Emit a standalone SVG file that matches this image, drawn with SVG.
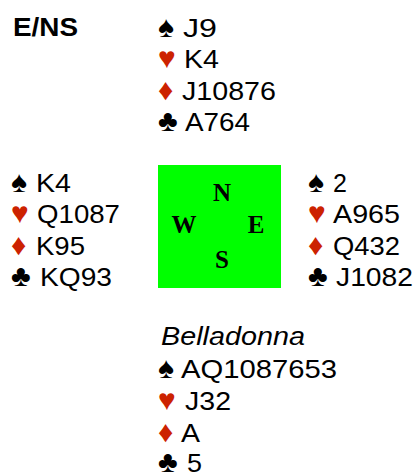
<svg xmlns="http://www.w3.org/2000/svg" width="418" height="473" viewBox="0 0 418 473">
<style>
text{font-family:"Liberation Sans",Arial,sans-serif;font-size:25px;fill:#000}
.s{font-size:30px}
.r{fill:#cc2200}
.c{font-family:"Liberation Serif","Times New Roman",serif;font-weight:bold;font-size:25px;text-anchor:middle}
</style>
<rect width="418" height="473" fill="#fff"/>
<g id="title"><text x="13" y="36" style="font-weight:bold" textLength="65" lengthAdjust="spacingAndGlyphs">E/NS</text></g>
<g id="north">
<text class="s" x="158" y="37">♠</text><text x="183" y="37" textLength="34" lengthAdjust="spacingAndGlyphs">J9</text>
<text class="s r" x="158" y="68">♥</text><text x="184" y="68" textLength="35" lengthAdjust="spacingAndGlyphs">K4</text>
<text class="s r" x="158" y="100">♦</text><text x="182" y="100" textLength="94" lengthAdjust="spacingAndGlyphs">J10876</text>
<text class="s" x="158" y="131">♣</text><text x="185" y="131" textLength="65" lengthAdjust="spacingAndGlyphs">A764</text>
</g>
<g id="west">
<text class="s" x="11" y="192">♠</text><text x="36" y="192" textLength="35" lengthAdjust="spacingAndGlyphs">K4</text>
<text class="s r" x="11" y="223">♥</text><text x="37" y="223" textLength="83" lengthAdjust="spacingAndGlyphs">Q1087</text>
<text class="s r" x="11" y="255">♦</text><text x="36" y="255" textLength="49" lengthAdjust="spacingAndGlyphs">K95</text>
<text class="s" x="11" y="286">♣</text><text x="40" y="286" textLength="72" lengthAdjust="spacingAndGlyphs">KQ93</text>
</g>
<g id="compass">
<rect x="158" y="165" width="123" height="123" fill="#00ff00"/>
<text class="c" x="222" y="201">N</text>
<text class="c" x="184" y="233">W</text>
<text class="c" x="256" y="233">E</text>
<text class="c" x="222" y="268">S</text>
</g>
<g id="east">
<text class="s" x="308" y="192">♠</text><text x="333" y="192">2</text>
<text class="s r" x="308" y="223">♥</text><text x="333" y="223" textLength="67" lengthAdjust="spacingAndGlyphs">A965</text>
<text class="s r" x="308" y="255">♦</text><text x="333" y="255" textLength="67" lengthAdjust="spacingAndGlyphs">Q432</text>
<text class="s" x="308" y="286">♣</text><text x="336" y="286" textLength="77" lengthAdjust="spacingAndGlyphs">J1082</text>
</g>
<g id="south">
<text x="161" y="345" style="font-style:italic" textLength="144" lengthAdjust="spacingAndGlyphs">Belladonna</text>
<text class="s" x="158" y="378">♠</text><text x="181" y="378" textLength="156" lengthAdjust="spacingAndGlyphs">AQ1087653</text>
<text class="s r" x="158" y="410">♥</text><text x="185" y="410" textLength="46" lengthAdjust="spacingAndGlyphs">J32</text>
<text class="s r" x="158" y="442">♦</text><text x="181" y="442" textLength="19" lengthAdjust="spacingAndGlyphs">A</text>
<text class="s" x="158" y="472">♣</text><text x="187" y="472" textLength="15" lengthAdjust="spacingAndGlyphs">5</text>
</g>
<g id="connectors"/>
</svg>
